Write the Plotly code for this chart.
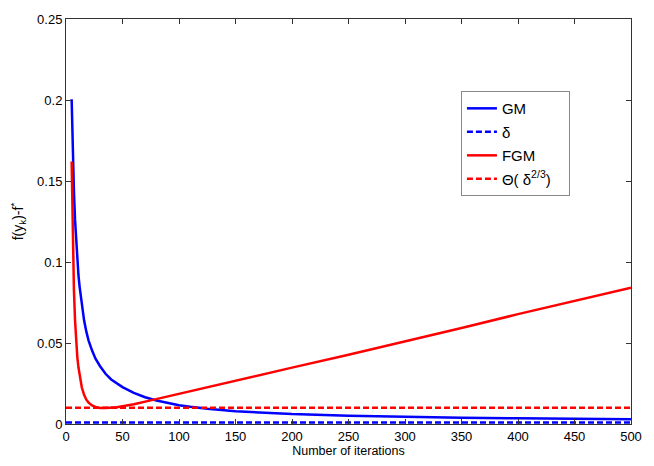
import plotly.graph_objects as go

# Data
gm_k = [5, 6, 7, 8, 9, 10, 11, 12, 14, 16, 18, 20, 23, 26, 30, 35, 40, 45, 50, 60, 70, 80, 90,
        100, 110, 125, 150, 175, 200, 250, 300, 350, 400, 450, 500]
gm_val = [0.2005, 0.168, 0.144, 0.126, 0.112, 0.101, 0.092, 0.085, 0.073, 0.064, 0.057, 0.0515,
          0.0455, 0.0405, 0.0358, 0.031, 0.0275, 0.025, 0.0228, 0.0192, 0.0165, 0.0145, 0.0129,
          0.0116, 0.0106, 0.0094, 0.0079, 0.0069, 0.0061, 0.0051, 0.0044, 0.0039, 0.0035, 0.0032, 0.003]

fgm_k = [5, 6, 7, 8, 9, 10, 11, 12, 14, 16, 18, 20, 23, 26, 30, 35, 40, 45, 50, 60, 75, 100,
         150, 200, 250, 300, 350, 400, 450, 500]
fgm_val = [0.162, 0.113, 0.083, 0.064, 0.051, 0.0415, 0.035, 0.030, 0.0225, 0.018, 0.015, 0.0132,
           0.0115, 0.0105, 0.0099, 0.0098, 0.0100, 0.0104, 0.0110, 0.0122, 0.0146, 0.0187,
           0.027, 0.0348, 0.0427, 0.0508, 0.0593, 0.0678, 0.0760, 0.0841]

ref_k = [0, 500]
delta_val = [0.001, 0.001]
theta_val = [0.01, 0.01]

x_ticks = [0, 50, 100, 150, 200, 250, 300, 350, 400, 450, 500]
y_ticks = [0, 0.05, 0.1, 0.15, 0.2, 0.25]
y_tick_text = ["0", "0.05", "0.1", "0.15", "0.2", "0.25"]

legend_names = ["GM", "δ", "FGM", "Θ( δ<sup>2/3</sup>)\u00a0\u00a0\u00a0"]

BLUE = "#0000ff"
RED = "#ff0000"
DASH = "6px,3px"
FONT = "Arial, Liberation Sans, sans-serif"

fig = go.Figure()
fig.add_trace(go.Scatter(x=gm_k, y=gm_val, mode="lines", name=legend_names[0], legendgroup="a",
                         line=dict(color=BLUE, width=2.5)))
fig.add_trace(go.Scatter(x=ref_k, y=delta_val, mode="lines", name=legend_names[1], legendgroup="b",
                         line=dict(color=BLUE, width=2.5, dash=DASH)))
fig.add_trace(go.Scatter(x=fgm_k, y=fgm_val, mode="lines", name=legend_names[2], legendgroup="c",
                         line=dict(color=RED, width=2.5)))
fig.add_trace(go.Scatter(x=ref_k, y=theta_val, mode="lines", name=legend_names[3],
                         legendgroup="d", line=dict(color=RED, width=2.5, dash=DASH)))

axis_common = dict(showgrid=False, zeroline=False, showline=True, linecolor="#333",
                   linewidth=1, mirror="allticks", ticks="inside", ticklen=5,
                   tickcolor="#333", tickfont=dict(family=FONT, size=13, color="#000"))

fig.update_layout(
    width=654, height=466,
    margin=dict(l=66, r=13, t=13, b=28),
    paper_bgcolor="white", plot_bgcolor="white",
    font=dict(family=FONT, size=13, color="#000"),
    xaxis=dict(range=[0, 500], tickvals=x_ticks,
               title=dict(text="Number of iterations", font=dict(size=12.5), standoff=2),
               **axis_common),
    yaxis=dict(range=[0, 0.25], tickvals=y_ticks, ticktext=y_tick_text,
               title=dict(text="f(y<sub>k</sub>)-f<sup>*</sup>", font=dict(size=14), standoff=10),
               **axis_common),
    legend=dict(x=0.699, y=0.822, xanchor="left", yanchor="top",
                bordercolor="#888", borderwidth=1, bgcolor="white",
                font=dict(family=FONT, size=15), traceorder="grouped",
                tracegroupgap=1),
    showlegend=True,
)

fig.write_html("out.html")
